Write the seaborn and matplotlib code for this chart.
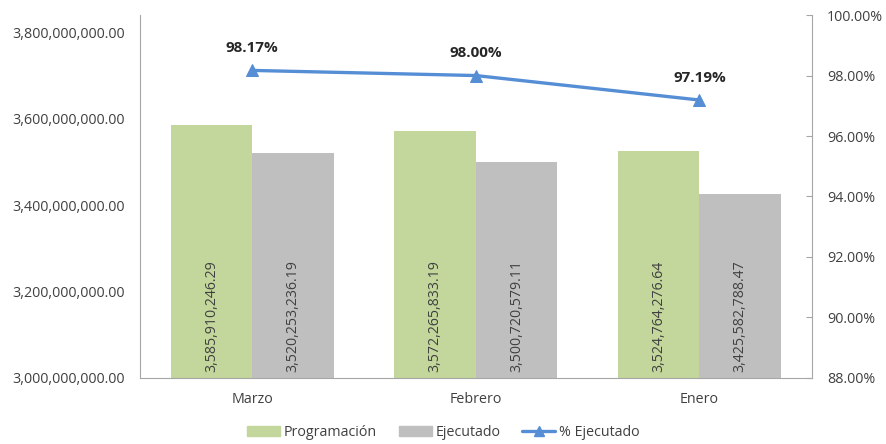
import pandas as pd
import matplotlib.pyplot as plt
import matplotlib.ticker as mticker
import seaborn as sns

meses = ["Marzo", "Febrero", "Enero"]
programacion = [3585910246.29, 3572265833.19, 3524764276.64]
ejecutado = [3520253236.19, 3500720579.11, 3425582788.47]
pct_ejecutado = [98.17, 98.00, 97.19]

df = pd.DataFrame({
    "mes": meses * 2,
    "serie": ["Programación"] * 3 + ["Ejecutado"] * 3,
    "valor": programacion + ejecutado,
})

sns.set_style("white")
plt.rcParams["font.family"] = ["Open Sans", "DejaVu Sans"]

fig = plt.figure(figsize=(8.87, 4.44), dpi=100)
ax = fig.add_axes([0.158, 0.149, 0.757, 0.817])

sns.barplot(data=df, x="mes", y="valor", hue="serie", ax=ax,
            palette=["#C3D69B", "#BFBFBF"], width=0.73, saturation=1,
            edgecolor="none", legend=False)
ax.set_ylim(3.0e9, 3.84e9)
ax.set_yticks([3.0e9, 3.2e9, 3.4e9, 3.6e9, 3.8e9])
ax.yaxis.set_major_formatter(mticker.FuncFormatter(lambda v, p: f"{v:,.2f}"))
ax.set_xlabel("")
ax.set_ylabel("")
ax.tick_params(axis="both", labelsize=10.3, colors="#404040", length=0)
ax.tick_params(axis="y", pad=11)
ax.tick_params(axis="x", pad=10)
for s in ["top", "right"]:
    ax.spines[s].set_visible(False)
for s in ["left", "bottom"]:
    ax.spines[s].set_color("#A6A6A6")

# value labels rotated inside bars
for container in ax.containers:
    for bar in container:
        h = bar.get_height()
        ax.text(bar.get_x() + bar.get_width() / 2, 3.0e9 + 1.4e7, f"{h:,.2f}",
                rotation=90, ha="center", va="bottom", fontsize=10.2, color="#404040")

ax2 = ax.twinx()
sns.lineplot(x=list(range(len(meses))), y=pct_ejecutado, ax=ax2, color="#558ED5",
             linewidth=2.4, marker="^", markersize=8, markeredgecolor="#558ED5")
ax2.set_ylim(88, 100)
ax2.set_yticks([88, 90, 92, 94, 96, 98, 100])
ax2.yaxis.set_major_formatter(mticker.FuncFormatter(lambda v, p: f"{v:.2f}%"))
ax2.tick_params(axis="y", labelsize=10.3, colors="#404040", length=4, direction="in", pad=11)
ax2.tick_params(axis="y", color="#A6A6A6")
for s in ["top", "left", "bottom"]:
    ax2.spines[s].set_visible(False)
ax2.spines["right"].set_color("#A6A6A6")
for i, p in enumerate(pct_ejecutado):
    ax2.annotate(f"{p:.2f}%", (i, p), xytext=(0, 11), textcoords="offset points",
                 ha="center", va="bottom", fontsize=11, fontweight="bold", color="#262626")

handles = [
    plt.Rectangle((0, 0), 1, 1, color="#C3D69B"),
    plt.Rectangle((0, 0), 1, 1, color="#BFBFBF"),
    plt.Line2D([], [], color="#558ED5", linewidth=2.4, marker="^", markersize=7),
]
fig.legend(handles, ["Programación", "Ejecutado", "% Ejecutado"], loc="lower center",
           bbox_to_anchor=(0.5, -0.02), ncol=3, frameon=False, fontsize=10.3,
           handlelength=2.3, handleheight=0.7, columnspacing=1.5, handletextpad=0.3,
           labelcolor="#404040")

fig.savefig("out.png", dpi=100)
